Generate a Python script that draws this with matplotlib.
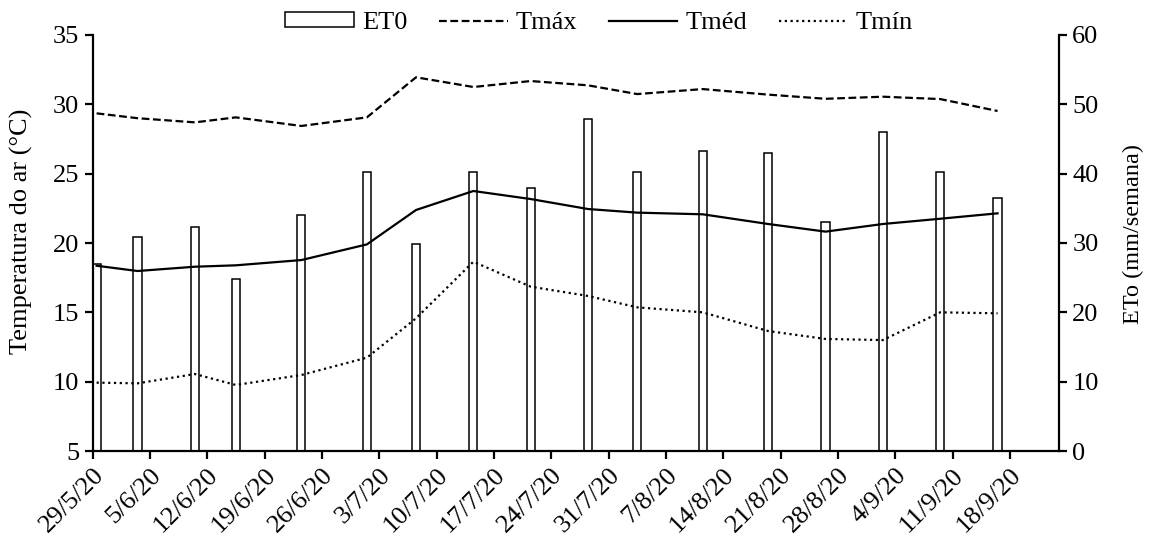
import matplotlib
matplotlib.use("Agg")
import matplotlib.pyplot as plt
import matplotlib.dates as mdates
import numpy as np
import pandas as pd

plt.rcParams['font.family'] = ['Liberation Serif', 'DejaVu Serif']
FS = 19
plt.rcParams['font.size'] = FS

# ---- data ----
dates = ["2020-05-29", "2020-06-03", "2020-06-10", "2020-06-15", "2020-06-23",
         "2020-07-01", "2020-07-07", "2020-07-14", "2020-07-21", "2020-07-28",
         "2020-08-03", "2020-08-11", "2020-08-19", "2020-08-26", "2020-09-02",
         "2020-09-09", "2020-09-16"]
eto = [27.0, 30.9, 32.3, 24.8, 34.0, 40.3, 29.9, 40.2, 37.9, 47.9,
       40.3, 43.3, 43.0, 33.0, 46.0, 40.3, 36.5]
tmax = [29.35, 29.0, 28.7, 29.06, 28.44, 29.06, 31.95, 31.25, 31.68, 31.37,
        30.74, 31.1, 30.7, 30.4, 30.55, 30.38, 29.52]
tmed = [18.36, 17.98, 18.29, 18.39, 18.77, 19.9, 22.38, 23.75, 23.17, 22.45,
        22.19, 22.07, 21.37, 20.82, 21.37, 21.75, 22.14]
tmin = [9.93, 9.88, 10.55, 9.76, 10.48, 11.73, 14.57, 18.65, 16.85, 16.18,
        15.36, 15.0, 13.65, 13.08, 13.0, 15.0, 14.93]
tick_dates = ["2020-05-29", "2020-06-05", "2020-06-12", "2020-06-19", "2020-06-26",
              "2020-07-03", "2020-07-10", "2020-07-17", "2020-07-24", "2020-07-31",
              "2020-08-07", "2020-08-14", "2020-08-21", "2020-08-28", "2020-09-04",
              "2020-09-11", "2020-09-18"]
tick_labels = ["29/5/20", "5/6/20", "12/6/20", "19/6/20", "26/6/20", "3/7/20",
               "10/7/20", "17/7/20", "24/7/20", "31/7/20", "7/8/20", "14/8/20",
               "21/8/20", "28/8/20", "4/9/20", "11/9/20", "18/9/20"]

x = mdates.date2num(pd.to_datetime(dates)) + 0.5
xt = mdates.date2num(pd.to_datetime(tick_dates))

fig = plt.figure(figsize=(11.53, 5.43), dpi=100)
ax = fig.add_axes([92.5/1153, 1 - 451/543, (1059 - 92.5)/1153, (451 - 35)/543])
ax2 = ax.twinx()

# bars on the secondary axis
bars = ax2.bar(x, eto, width=1.0, color='white', edgecolor='black', linewidth=1.1,
               label='ET0', zorder=2)
ax2.set_ylim(0, 60)
ax2.set_yticks(np.arange(0, 61, 10))

# put the temperature lines above the bars
ax.set_zorder(ax2.get_zorder() + 1)
ax.patch.set_visible(False)

l1, = ax.plot(x, tmax, color='black', lw=1.6, linestyle=(0, (3.5, 1.6)), label='Tmáx')
l2, = ax.plot(x, tmed, color='black', lw=1.6, linestyle='-', label='Tméd')
l3, = ax.plot(x, tmin, color='black', lw=1.6, linestyle=(0, (1, 1.6)), label='Tmín')

ax.set_ylim(5, 35)
ax.set_yticks(np.arange(5, 36, 5))
ax.set_xlim(xt[0], xt[0] + 118)
ax.set_xticks(xt)
ax.set_xticklabels(tick_labels, rotation=45, ha='right', rotation_mode='anchor')

ax.set_ylabel('Temperatura do ar (°C)', fontsize=FS)
ax2.set_ylabel('ETo (mm/semana)', fontsize=17.5)
ax.yaxis.set_label_coords(-0.0616, 0.527)
ax2.yaxis.set_label_coords(1.066, 0.522)

for a in (ax, ax2):
    a.spines['top'].set_visible(False)
    for s in a.spines.values():
        s.set_linewidth(1.6)
    a.tick_params(direction='out', length=6, width=1.6, labelsize=FS)
ax2.spines['left'].set_visible(False)
ax.spines['right'].set_visible(False)
ax2.spines['bottom'].set_visible(False)

fig.legend([bars, l1, l2, l3], ['ET0', 'Tmáx', 'Tméd', 'Tmín'],
           loc='center', bbox_to_anchor=(599/1153, 1 - 23/543), ncol=4,
           frameon=False, handlelength=2.6, handleheight=0.5, handletextpad=0.3,
           columnspacing=1.2, fontsize=FS)

fig.savefig('out.png', dpi=100)
